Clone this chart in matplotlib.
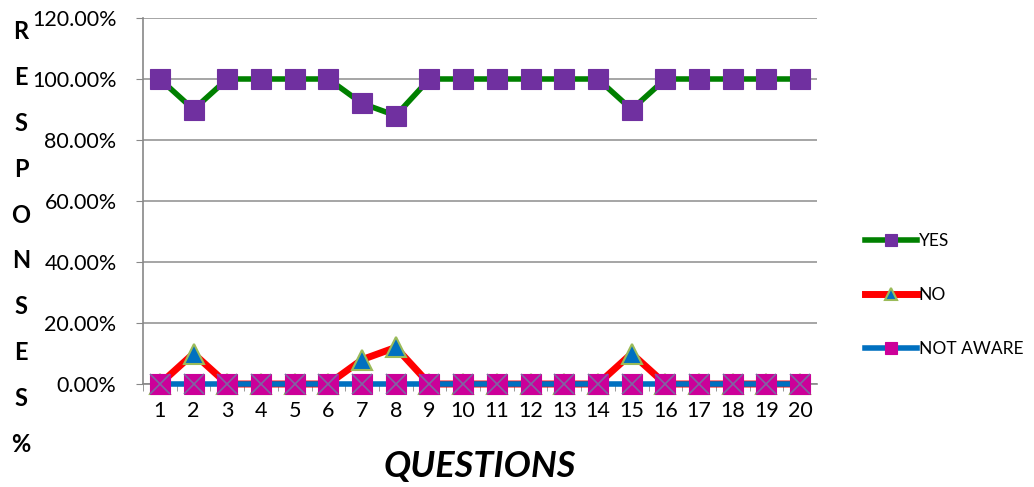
import matplotlib
matplotlib.use("Agg")
import matplotlib.pyplot as plt
from matplotlib.ticker import FuncFormatter, MultipleLocator

plt.rcParams['font.family'] = ['Lato', 'DejaVu Sans']

questions = list(range(1, 21))
yes_pct = [100, 90, 100, 100, 100, 100, 92, 88, 100, 100,
           100, 100, 100, 100, 90, 100, 100, 100, 100, 100]
no_pct = [0, 10, 0, 0, 0, 0, 8, 12, 0, 0,
          0, 0, 0, 0, 10, 0, 0, 0, 0, 0]
not_aware_pct = [0] * 20
series_names = ["YES", "NO", "NOT AWARE"]

fig = plt.figure(figsize=(10.34, 4.87), dpi=100)
ax = fig.add_axes([143 / 1034, 1 - 384 / 487, (817 - 143) / 1034, (384 - 18) / 487])

ms = 14.5
ax.plot(questions, yes_pct, color="#008000", lw=4, marker="s", ms=ms,
        mfc="#7030A0", mec="#7030A0", mew=0.8, label=series_names[0],
        zorder=3, clip_on=False)
ax.plot(questions, no_pct, color="#FF0000", lw=5, marker="^", ms=ms,
        mfc="#0070C0", mec="#9BBB59", mew=1.5, label=series_names[1],
        zorder=4, clip_on=False)
ax.plot(questions, not_aware_pct, color="#0070C0", lw=4, marker="s", ms=ms,
        mfc="#CC0099", mec="#CC0099", mew=0.8, label=series_names[2],
        zorder=5, clip_on=False)
# cross drawn over the magenta squares
ax.plot(questions, not_aware_pct, ls="none", marker="x", ms=ms * 0.95,
        mec="#8064A2", mew=1.2, zorder=6, clip_on=False)

ax.set_xlim(0.5, 20.5)
ax.set_ylim(0, 120)
ax.yaxis.set_major_locator(MultipleLocator(20))
ax.yaxis.set_major_formatter(FuncFormatter(lambda v, p: f"{v:.2f}%"))
ax.set_xticks(questions)
ax.set_xticks([q + 0.5 for q in range(0, 20)], minor=True)
ax.tick_params(axis="x", which="major", length=0, labelsize=15.5, pad=12)
ax.tick_params(axis="x", which="minor", length=5, color="#888888")
ax.tick_params(axis="y", length=5, color="#888888", labelsize=15.5, pad=14)

ax.grid(axis="y", color="#969696", lw=1.2)
ax.set_axisbelow(True)
for s in ("top", "right"):
    ax.spines[s].set_visible(False)
for s in ("left", "bottom"):
    ax.spines[s].set_color("#888888")
    ax.spines[s].set_linewidth(1.2)

handles, labels = ax.get_legend_handles_labels()
leg = fig.legend(handles[:3], labels[:3], loc="center left",
                 bbox_to_anchor=(858 / 1034, 1 - 295 / 487), frameon=False,
                 fontsize=12.5, handlelength=3.0, handletextpad=0.1,
                 labelspacing=2.2, borderaxespad=0)
for h in leg.legend_handles:
    h.set_markersize(8.5)

fig.text(480 / 1034, 1 - 467 / 487, "QUESTIONS", ha="center", va="center",
         fontsize=26, fontweight="bold", fontstyle="italic")
fig.text(21 / 1034, 1 - 238 / 487, "\n".join("RESPONSES%"), ha="center",
         va="center", fontsize=17, fontweight="bold", linespacing=2.2)

fig.savefig("out.png", dpi=100)
